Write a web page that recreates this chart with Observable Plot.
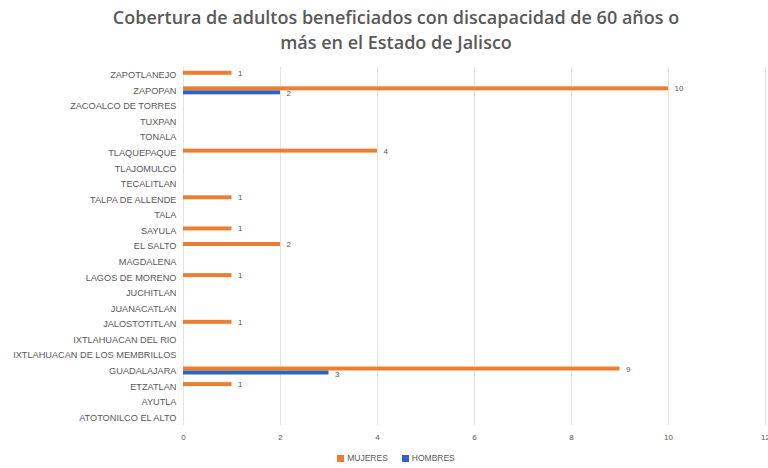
<!DOCTYPE html>
<html>
<head>
<meta charset="utf-8">
<script src="https://cdn.jsdelivr.net/npm/d3@7"></script>
<script src="https://cdn.jsdelivr.net/npm/@observablehq/plot@0.6"></script>
<style>
  html, body { margin: 0; padding: 0; background: #fff; }
  #wrap { width: 768px; height: 468px; overflow: hidden; }
  #title { height: 58px; box-sizing: border-box; padding-top: 5px; padding-left: 24px; text-align: center;
           font-family: "Open Sans", sans-serif; font-weight: 600; font-size: 18px; line-height: 25px; color: #595959; }
  #legend { height: 20px; display: flex; justify-content: center; align-items: center; gap: 14px;
            font-family: "Liberation Sans", Arial, sans-serif; font-size: 8.5px; color: #595959; padding-left: 24px; }
  #legend span.sw { display: inline-block; width: 7px; height: 7px; margin-right: 3px; vertical-align: middle; }
  #chart svg { display: block; }
</style>
</head>
<body>
<div id="wrap">
  <div id="title">Cobertura de adultos beneficiados con discapacidad de 60 años o<br>más en el Estado de Jalisco</div>
  <div id="chart"></div>
  <div id="legend"></div>
</div>
<script>
const municipios = [
  "ZAPOTLANEJO", "ZAPOPAN", "ZACOALCO DE TORRES", "TUXPAN", "TONALA", "TLAQUEPAQUE",
  "TLAJOMULCO", "TECALITLAN", "TALPA DE ALLENDE", "TALA", "SAYULA", "EL SALTO",
  "MAGDALENA", "LAGOS DE MORENO", "JUCHITLAN", "JUANACATLAN", "JALOSTOTITLAN",
  "IXTLAHUACAN DEL RIO", "IXTLAHUACAN DE LOS MEMBRILLOS", "GUADALAJARA", "ETZATLAN",
  "AYUTLA", "ATOTONILCO EL ALTO"
];
const mujeres = [1, 10, 0, 0, 0, 4, 0, 0, 1, 0, 1, 2, 0, 1, 0, 0, 1, 0, 0, 9, 1, 0, 0];
const hombres = [0, 2, 0, 0, 0, 0, 0, 0, 0, 0, 0, 0, 0, 0, 0, 0, 0, 0, 0, 3, 0, 0, 0];
const xTicks = [0, 2, 4, 6, 8, 10, 12];
const series = ["MUJERES", "HOMBRES"];
const colors = ["#ED7D31", "#2E65B8"];

const data = municipios.map((m, i) => ({municipio: m, mujeres: mujeres[i], hombres: hombres[i]}));
const dM = data.filter(d => d.mujeres > 0);
const dH = data.filter(d => d.hombres > 0);

const chart = Plot.plot({
  width: 768,
  height: 390,
  marginLeft: 183,
  marginRight: 3,
  marginTop: 9,
  marginBottom: 23,
  style: {fontFamily: "Liberation Sans, Arial, sans-serif", fontSize: "8px", color: "#595959", background: "#fff"},
  x: {domain: [0, 12], label: null},
  y: {domain: municipios, label: null, padding: 0, round: false},
  marks: [
    Plot.gridX(xTicks, {stroke: "#e3e3e3", strokeOpacity: 1}),
    Plot.barX(dM, {x: "mujeres", y: "municipio", fill: colors[0], insetTop: 3.8, insetBottom: 7.8}),
    Plot.barX(dH, {x: "hombres", y: "municipio", fill: colors[1], insetTop: 7.8, insetBottom: 3.8}),
    Plot.text(dM, {x: "mujeres", y: "municipio", text: d => String(d.mujeres), dx: 6, dy: -2, textAnchor: "start", fill: "#595959", fontSize: 8}),
    Plot.text(dH, {x: "hombres", y: "municipio", text: d => String(d.hombres), dx: 6, dy: 3, textAnchor: "start", fill: "#595959", fontSize: 8}),
    Plot.axisX({ticks: xTicks, tickSize: 0, tickPadding: 9, fontSize: 8, fill: "#595959"}),
    Plot.axisY({tickSize: 0, tickPadding: 7, fontSize: 9.2, fill: "#595959"})
  ]
});
document.getElementById("chart").appendChild(chart);

const legend = document.getElementById("legend");
series.forEach((s, i) => {
  const item = document.createElement("div");
  item.innerHTML = `<span class="sw" style="background:${colors[i]}"></span>${s}`;
  legend.appendChild(item);
});
</script>
</body>
</html>
